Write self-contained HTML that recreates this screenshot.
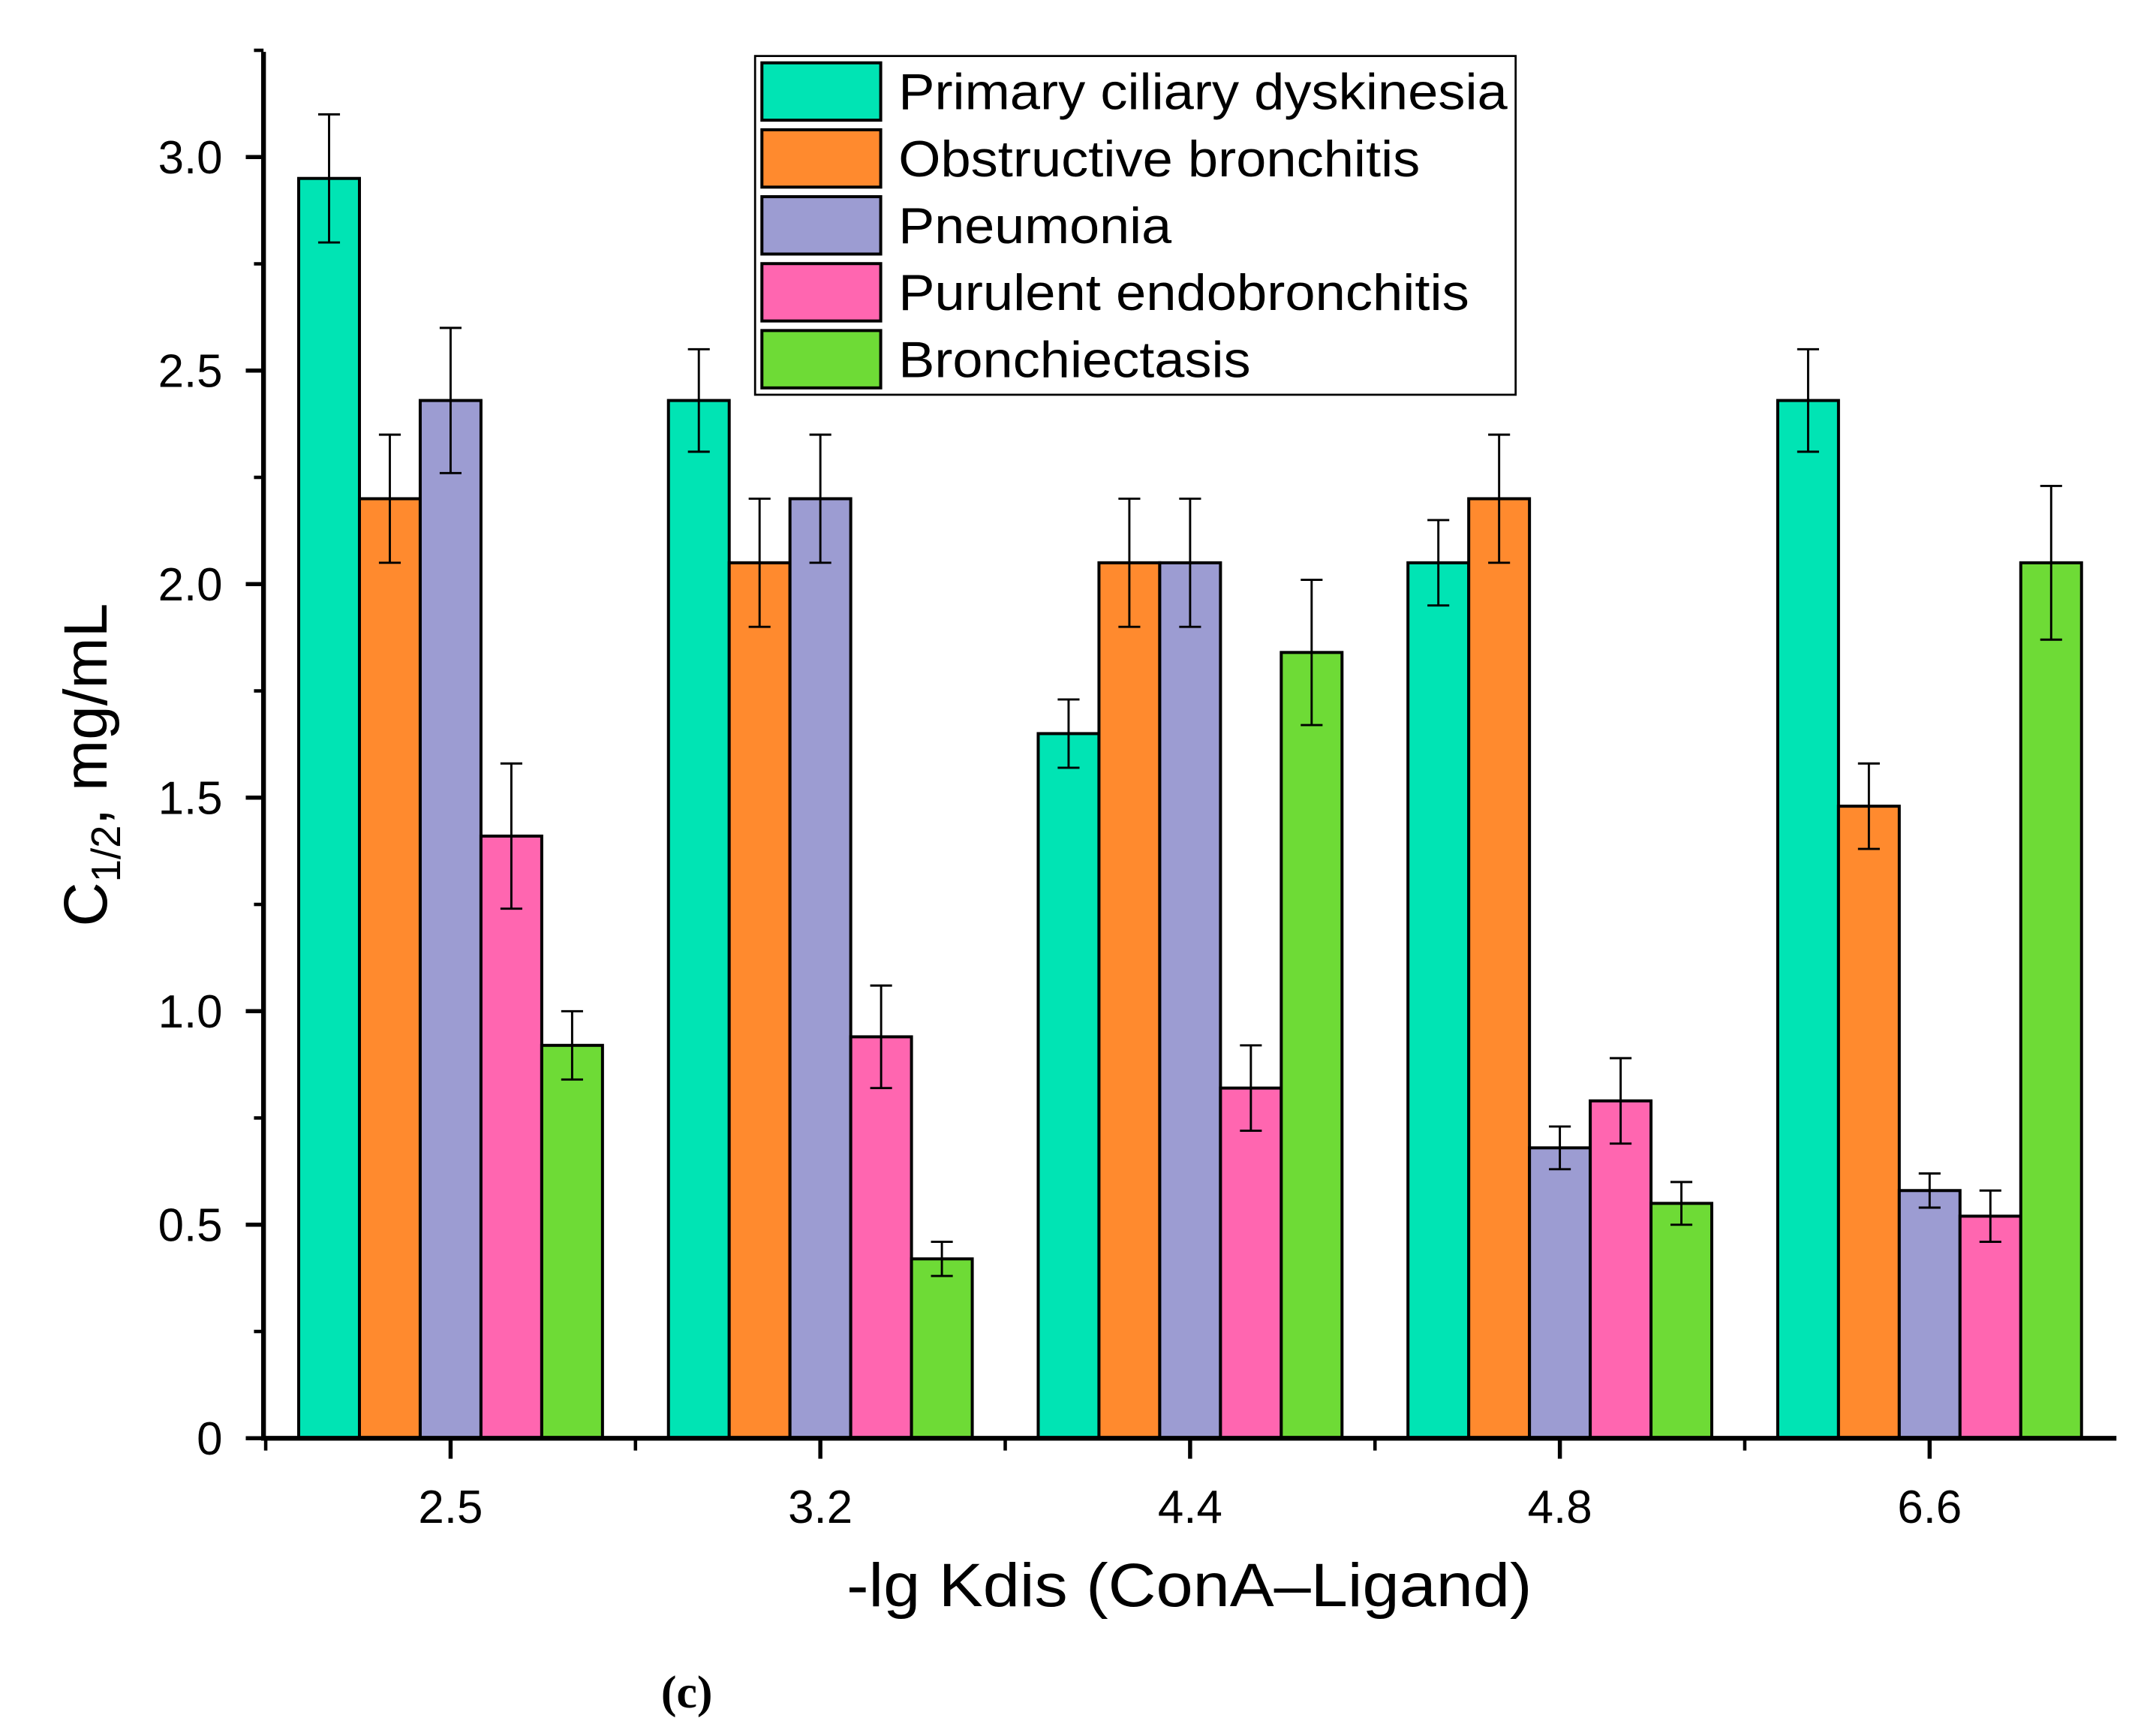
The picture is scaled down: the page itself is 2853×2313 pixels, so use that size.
<!DOCTYPE html>
<html><head><meta charset="utf-8"><style>
html,body{margin:0;padding:0;background:#fff;}
svg{display:block;font-family:"Liberation Sans",sans-serif;}
</style></head><body>
<svg id="chart" width="2853" height="2313" viewBox="0 0 1568 1271" preserveAspectRatio="none" xmlns="http://www.w3.org/2000/svg">
<rect width="1568" height="1271" fill="#fff"/>
<g id="plot"></g>
</svg>
<script>
const categories = ["2.5","3.2","4.4","4.8","6.6"];
const seriesNames = ["Primary ciliary dyskinesia","Obstructive bronchitis","Pneumonia","Purulent endobronchitis","Bronchiectasis"];
const pcd = [2.95,2.43,1.65,2.05,2.43];
const pcdErr = [0.15,0.12,0.08,0.10,0.12];
const obr = [2.20,2.05,2.05,2.20,1.48];
const obrErr = [0.15,0.15,0.15,0.15,0.10];
const pne = [2.43,2.20,2.05,0.68,0.58];
const pneErr = [0.17,0.15,0.15,0.05,0.04];
const pur = [1.41,0.94,0.82,0.79,0.52];
const purErr = [0.17,0.12,0.10,0.10,0.06];
const bre = [0.92,0.42,1.84,0.55,2.05];
const breErr = [0.08,0.04,0.17,0.05,0.18];
const yTicks = [0,0.5,1.0,1.5,2.0,2.5,3.0];
const yTickLabels = ["0","0.5","1.0","1.5","2.0","2.5","3.0"];

const series=[pcd,obr,pne,pur,bre], errs=[pcdErr,obrErr,pneErr,purErr,breErr];
const colors=["#00e4b4","#ff8a2e","#9c9cd2","#ff66b0","#6edb36"];
const NS="http://www.w3.org/2000/svg";
const g=document.getElementById('plot');
const X0=193,X1=1550,Y0=1053,Ytop=38;
const yS=v=>Y0-v*(1053-115)/3.0;
const gC=i=>330+i*270.8;
const bw=44.5;
function mk(t,a,p){const e=document.createElementNS(NS,t);for(const k in a)e.setAttribute(k,a[k]);(p||g).appendChild(e);return e;}
series.forEach((s,si)=>{s.forEach((v,ci)=>{
 const x=gC(ci)+(si-2.5)*bw;
 const r=mk('rect',{x:x,y:yS(v),width:bw,height:Y0-yS(v),fill:colors[si],stroke:'#000','stroke-width':2.2});
 
 
 const cx=x+bw/2,e=errs[si][ci];
 const eb=mk('path',{d:`M${cx},${yS(v+e)}V${yS(v-e)}M${cx-8},${yS(v+e)}H${cx+8}M${cx-8},${yS(v-e)}H${cx+8}`,stroke:'#000','stroke-width':1.6,fill:'none'});
 
 
});});
mk('path',{d:`M${X0},${Ytop}V${Y0}H${X1}`,stroke:'#000','stroke-width':3.5,fill:'none'});
yTicks.forEach((t,i)=>{
 mk('line',{x1:X0-13,x2:X0,y1:yS(t),y2:yS(t),stroke:'#000','stroke-width':3});
 if(i<yTicks.length-1) mk('line',{x1:X0-7,x2:X0,y1:yS(t+0.25),y2:yS(t+0.25),stroke:'#000','stroke-width':2.5});
 const tx=mk('text',{x:X0-30,y:yS(t)+12,'text-anchor':'end','font-size':34});
 tx.textContent=yTickLabels[i];
 
 
});
mk('line',{x1:X0-7,x2:X0,y1:yS(3.25),y2:yS(3.25),stroke:'#000','stroke-width':2.5});
categories.forEach((c,i)=>{
 mk('line',{x1:gC(i),x2:gC(i),y1:Y0,y2:Y0+15,stroke:'#000','stroke-width':3});
 const b=gC(i)-135.4;
 mk('line',{x1:b,x2:b,y1:Y0,y2:Y0+9,stroke:'#000','stroke-width':2.5});
 const tx=mk('text',{x:gC(i),y:1115,'text-anchor':'middle','font-size':34});
 tx.textContent=c;
 
 
});
let t=mk('text',{x:871,y:1176,'text-anchor':'middle','font-size':45,textLength:502,lengthAdjust:'spacingAndGlyphs'});t.textContent='-lg Kdis (ConA\u2013Ligand)';

t=mk('text',{transform:'translate(78,560) rotate(-90)','text-anchor':'middle','font-size':45});
t.innerHTML='C<tspan font-size="30" dy="10">1/2</tspan><tspan dy="-10">, mg/mL</tspan>';

t=mk('text',{x:503,y:1250,'text-anchor':'middle','font-size':34,'font-weight':'bold','font-family':'Liberation Serif, serif'});t.textContent='(c)';

const lg=mk('g',{});

mk('rect',{x:553,y:41,width:557,height:248,fill:'#fff',stroke:'#000','stroke-width':1.5},lg);
const legW=[446,382,200,418,258];
seriesNames.forEach((n,i)=>{
 const y=46+i*49;
 mk('rect',{x:558,y:y,width:87,height:42,fill:colors[i],stroke:'#000','stroke-width':2.2},lg);
 const tx=mk('text',{x:658,y:y+34,'font-size':37,textLength:legW[i],lengthAdjust:'spacingAndGlyphs'},lg);tx.textContent=n;
 
 
});
</script>
</body></html>
